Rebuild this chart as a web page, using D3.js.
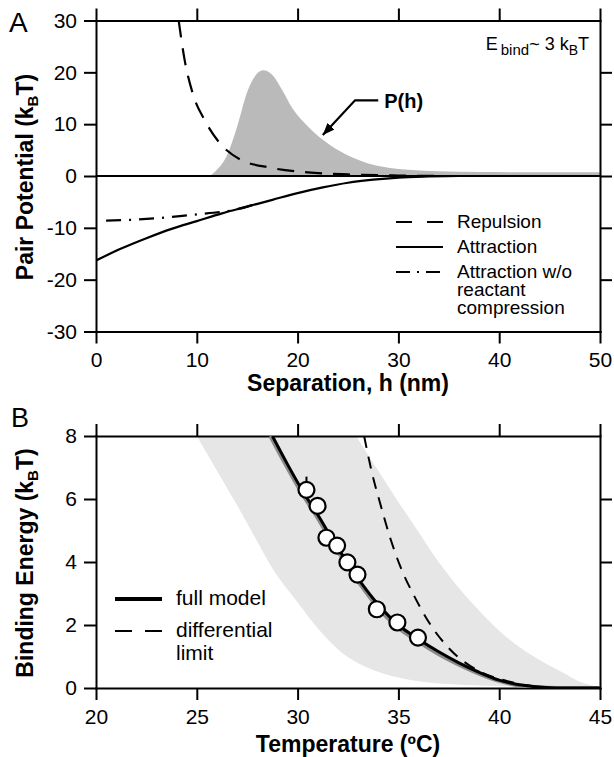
<!DOCTYPE html>
<html>
<head>
<meta charset="utf-8">
<script src="https://cdn.jsdelivr.net/npm/d3@7"></script>
<style>
  body { margin: 0; background: #fff; }
  svg { display: block; font-family: "Liberation Sans", Arial, sans-serif; }
</style>
</head>
<body>
<svg id="chart" width="614" height="757"></svg>
<script>
(function(){
  "use strict";

  // ---- panel A: pair potential vs separation ----
  const pH   = [11.3, 12, 13, 14, 15, 16, 16.6, 17.5, 18.5, 19.5, 21, 22.5, 24, 25.5, 27, 29, 31, 34, 38, 44, 50];
  const pVal = [0, 1.2, 4, 9.5, 16.2, 19.8, 20.4, 19.5, 16.5, 13, 9.6, 7, 5, 3.5, 2.4, 1.6, 1.2, 0.9, 0.75, 0.7, 0.7];

  const repH = [8.2, 8.8, 9.6, 10.8, 12.3, 14.3, 17.3, 21, 25, 30, 35, 50];
  const repV = [30, 22.3, 15.9, 10.7, 6.3, 3.2, 1.6, 0.7, 0.3, 0.1, 0, 0];

  const attH = [0, 2.5, 5, 7.5, 10, 12.5, 15, 17.5, 20, 22.5, 25, 27.5, 30, 33, 36, 50];
  const attV = [-16.3, -14, -12, -10.2, -8.7, -7.2, -5.9, -4.6, -3.3, -2.2, -1.3, -0.7, -0.3, -0.1, 0, 0];

  const noCompH = [1, 4, 7, 9, 11, 13, 15, 16];
  const noCompV = [-8.6, -8.4, -8.0, -7.6, -7.2, -6.8, -5.9, -5.3];

  const xTicksA = [0, 10, 20, 30, 40, 50];
  const yTicksA = [-30, -20, -10, 0, 10, 20, 30];
  const legendA = ["Repulsion", "Attraction", "Attraction w/o|reactant|compression"];

  // arrow pointing at P(h): [h, value]
  const arrowA = [[28, 14.6], [25.7, 14.6], [22.5, 7.9]];

  // ---- panel B: binding energy vs temperature ----
  const bandLowT = [25, 26, 27, 28, 28.8, 29.9, 31.2, 32.5, 34.2, 36.4, 39, 42, 45];
  const bandLowE = [8, 6.9, 5.8, 4.65, 3.75, 2.8, 1.75, 0.98, 0.47, 0.18, 0.08, 0.03, 0];
  const bandHighT = [32.9, 33.9, 34.9, 35.95, 37, 38.3, 39.8, 41, 42.2, 43.2, 44, 45];
  const bandHighE = [8, 7, 6, 5, 4, 2.95, 1.94, 1.3, 0.82, 0.48, 0.2, 0];

  const fullT = [28.75, 29.5, 30.3, 31, 31.7, 32.5, 33.2, 34, 35, 36, 37, 38, 39, 40, 41, 42, 43, 45];
  const fullE = [8, 7.1, 6.2, 5.5, 4.75, 3.95, 3.3, 2.65, 2.0, 1.55, 1.15, 0.8, 0.5, 0.25, 0.1, 0.03, 0, 0];
  const fullGrayT = [28.65, 29.4, 30.2, 30.9, 31.6, 32.4, 33.1, 33.9, 34.9, 35.9, 36.9, 37.9, 38.9, 39.9, 40.9, 41.9, 42.9, 45];
  const fullGrayE = [8, 7.1, 6.2, 5.5, 4.75, 3.95, 3.3, 2.62, 1.96, 1.51, 1.11, 0.77, 0.48, 0.24, 0.09, 0.02, 0, 0];

  const diffT = [33.3, 33.7, 34.1, 34.55, 35.1, 35.8, 36.6, 37.6, 38.9, 40.3, 41.5, 42.5];
  const diffE = [8, 6.8, 5.85, 4.85, 3.85, 2.9, 2.0, 1.2, 0.57, 0.24, 0.07, 0];

  const expT = [30.44, 30.99, 31.43, 31.96, 32.47, 32.97, 33.93, 34.95, 35.97];
  const expE = [6.29, 5.78, 4.77, 4.52, 3.99, 3.6, 2.5, 2.08, 1.6];
  const expErr = [0.42, 0, 0, 0, 0, 0, 0, 0, 0];

  const xTicksB = [20, 25, 30, 35, 40, 45];
  const yTicksB = [0, 2, 4, 6, 8];
  const legendB = ["full model", "differential|limit"];

  const svg = d3.select("#chart");
  const defs = svg.append("defs");

  const zip = (a, b) => a.map((v, i) => [v, b[i]]);

  // scales
  const xA = d3.scaleLinear().domain([0, 50]).range([96, 600]);
  const yA = d3.scaleLinear().domain([-30, 30]).range([331.5, 20.5]);
  const xB = d3.scaleLinear().domain([20, 45]).range([96, 600]);
  const yB = d3.scaleLinear().domain([0, 8]).range([688, 436]);

  // clip rect for a panel
  function addClip(id, x, y){
    const [x0, x1] = x.range();
    const [y0, y1] = y.range();
    defs.append("clipPath").attr("id", id)
      .append("rect").attr("x", x0).attr("y", y1).attr("width", x1 - x0).attr("height", y0 - y1);
    return `url(#${id})`;
  }

  // box with ticks on all four sides, labels only bottom and left
  function drawFrame(x, y, xt, yt){
    const [x0, x1] = x.range();
    const [y0, y1] = y.range();
    const inner = yt.slice(1, -1);
    const g = svg.append("g");
    g.append("g").attr("transform", `translate(0,${y0})`)
      .call(d3.axisBottom(x).tickValues(xt).tickSize(12).tickSizeOuter(0).tickPadding(9).tickFormat(d => String(d)));
    g.append("g").attr("transform", `translate(0,${y1})`)
      .call(d3.axisTop(x).tickValues(xt).tickSize(12).tickSizeOuter(0).tickFormat(""));
    g.append("g").attr("transform", `translate(${x0},0)`)
      .call(d3.axisLeft(y).tickValues(yt).tickSize(12).tickSizeOuter(0).tickPadding(7).tickFormat(d => String(d)));
    g.append("g").attr("transform", `translate(${x1},0)`)
      .call(d3.axisRight(y).tickValues(inner).tickSize(12).tickSizeOuter(0).tickFormat(""));
    g.selectAll("g").attr("font-family", null).attr("font-size", null);
    g.selectAll(".domain").attr("stroke", "#000").attr("stroke-width", 2).attr("stroke-linecap", "square");
    g.selectAll(".tick line").attr("stroke", "#000").attr("stroke-width", 2);
    g.selectAll(".tick text").attr("font-size", 21).attr("fill", "#000");
    return g;
  }

  // subscripted label helper, e.g. "(k" + B + "T)"
  function kbt(text, pre){
    text.append("tspan").text(pre + "(k");
    text.append("tspan").attr("font-size", 15).attr("dy", 5).text("B");
    text.append("tspan").attr("dy", -5).text("T)");
  }

  // ================= panel A =================
  const clipA = addClip("clipA", xA, yA);
  const lineA = d3.line().x(d => xA(d[0])).y(d => yA(d[1])).curve(d3.curveMonotoneX);

  svg.append("path")
    .datum(zip(pH, pVal))
    .attr("d", d3.area().x(d => xA(d[0])).y0(yA(0)).y1(d => yA(d[1])).curve(d3.curveMonotoneX))
    .attr("fill", "#bababa");

  svg.append("line")
    .attr("x1", xA(0)).attr("x2", xA(50))
    .attr("y1", yA(0)).attr("y2", yA(0))
    .attr("stroke", "#000").attr("stroke-width", 2);

  drawFrame(xA, yA, xTicksA, yTicksA);

  const curvesA = svg.append("g").attr("clip-path", clipA);
  curvesA.append("path").datum(zip(repH, repV))
    .attr("d", lineA)
    .attr("fill", "none").attr("stroke", "#000").attr("stroke-width", 2.2)
    .attr("stroke-dasharray", "17,11");

  curvesA.append("path").datum(zip(attH, attV))
    .attr("d", lineA)
    .attr("fill", "none").attr("stroke", "#000").attr("stroke-width", 2.2);

  curvesA.append("path").datum(zip(noCompH, noCompV))
    .attr("d", lineA)
    .attr("fill", "none").attr("stroke", "#000").attr("stroke-width", 2.2)
    .attr("stroke-dasharray", "15,8,2,8");

  // legend A
  const legA = svg.append("g");
  const dashA = ["16,15", null, "14,7,2,7"];
  legendA.forEach((lab, i) => {
    const yy = 228 + i * 25;
    legA.append("line").attr("x1", 396).attr("x2", 443).attr("y1", yy - 6).attr("y2", yy - 6)
      .attr("stroke", "#000").attr("stroke-width", 2.2).attr("stroke-dasharray", dashA[i]);
    const t = legA.append("text").attr("x", 457).attr("y", yy).attr("font-size", 19);
    lab.split("|").forEach((s, j) => {
      t.append("tspan").attr("x", 457).attr("dy", j ? 18 : 0).text(s);
    });
  });

  // P(h) annotation
  defs.append("marker")
    .attr("id", "arrowHead").attr("viewBox", "0 0 10 8")
    .attr("refX", 10).attr("refY", 4)
    .attr("markerWidth", 12).attr("markerHeight", 10)
    .attr("markerUnits", "userSpaceOnUse").attr("orient", "auto")
    .append("path").attr("d", "M0,0L10,4L0,8z").attr("fill", "#000");

  svg.append("path").datum(arrowA)
    .attr("d", d3.line().x(d => xA(d[0])).y(d => yA(d[1])))
    .attr("fill", "none").attr("stroke", "#000").attr("stroke-width", 2.2)
    .attr("marker-end", "url(#arrowHead)");

  svg.append("text").attr("x", xA(28.6)).attr("y", 108)
    .attr("font-size", 20).attr("font-weight", "bold").text("P(h)");

  const eb = svg.append("text").attr("x", 589).attr("y", 50)
    .attr("text-anchor", "end").attr("font-size", 18);
  eb.append("tspan").text("E");
  eb.append("tspan").attr("dx", 3).attr("dy", 5).attr("font-size", 15).text("bind");
  eb.append("tspan").attr("dy", -5).text("~ 3 k");
  eb.append("tspan").attr("dy", 5).attr("font-size", 14).text("B");
  eb.append("tspan").attr("dy", -5).text("T");

  // titles A
  svg.append("text").attr("x", 9).attr("y", 32).attr("font-size", 28).text("A");
  svg.append("text").attr("x", 348).attr("y", 391)
    .attr("text-anchor", "middle").attr("font-size", 23).attr("font-weight", "bold")
    .text("Separation, h (nm)");
  const ytA = svg.append("text")
    .attr("transform", "translate(33,177) rotate(-90)")
    .attr("text-anchor", "middle").attr("font-size", 23).attr("font-weight", "bold");
  kbt(ytA, "Pair Potential ");

  // ================= panel B =================
  const clipB = addClip("clipB", xB, yB);
  const lineB = d3.line().x(d => xB(d[0])).y(d => yB(d[1])).curve(d3.curveMonotoneX);

  // shaded band: lower edge forward, upper edge back, straight closing segment along the top
  const bandPts = zip(bandLowT, bandLowE).concat(zip(bandHighT, bandHighE).reverse().slice(1));
  const bandLine = d3.line().x(d => xB(d[0])).y(d => yB(d[1])).curve(d3.curveCatmullRom.alpha(0.5));
  svg.append("path")
    .attr("clip-path", clipB)
    .attr("d", bandLine(bandPts) + "Z")
    .attr("fill", "#e6e6e6");

  drawFrame(xB, yB, xTicksB, yTicksB);

  const curvesB = svg.append("g").attr("clip-path", clipB);
  curvesB.append("path").datum(zip(fullGrayT, fullGrayE))
    .attr("d", lineB)
    .attr("fill", "none").attr("stroke", "#8a8a8a").attr("stroke-width", 4);

  curvesB.append("path").datum(zip(fullT, fullE))
    .attr("d", lineB)
    .attr("fill", "none").attr("stroke", "#000").attr("stroke-width", 3);

  curvesB.append("path").datum(zip(diffT, diffE))
    .attr("d", lineB)
    .attr("fill", "none").attr("stroke", "#000").attr("stroke-width", 2)
    .attr("stroke-dasharray", "12,9");

  const pts = expT.map((t, i) => ({ t, e: expE[i], err: expErr[i] }));
  svg.append("g").selectAll("line")
    .data(pts.filter(d => d.err > 0))
    .join("line")
    .attr("x1", d => xB(d.t)).attr("x2", d => xB(d.t))
    .attr("y1", d => yB(d.e + d.err)).attr("y2", d => yB(d.e))
    .attr("stroke", "#000").attr("stroke-width", 2);
  svg.append("g").selectAll("circle")
    .data(pts)
    .join("circle")
    .attr("cx", d => xB(d.t)).attr("cy", d => yB(d.e)).attr("r", 8)
    .attr("fill", "#fff").attr("stroke", "#000").attr("stroke-width", 2.2);

  // legend B
  const legB = svg.append("g");
  legB.append("line").attr("x1", 115).attr("x2", 162).attr("y1", 599).attr("y2", 599)
    .attr("stroke", "#000").attr("stroke-width", 4);
  legB.append("line").attr("x1", 115).attr("x2", 162).attr("y1", 631).attr("y2", 631)
    .attr("stroke", "#000").attr("stroke-width", 2).attr("stroke-dasharray", "17,13");
  legendB.forEach((lab, i) => {
    const t = legB.append("text").attr("x", 176).attr("y", 605 + i * 32).attr("font-size", 21);
    lab.split("|").forEach((s, j) => {
      t.append("tspan").attr("x", 176).attr("dy", j ? 23 : 0).text(s);
    });
  });

  // titles B
  svg.append("text").attr("x", 11).attr("y", 427).attr("font-size", 27).text("B");
  svg.append("text").attr("x", 348).attr("y", 752)
    .attr("text-anchor", "middle").attr("font-size", 23).attr("font-weight", "bold")
    .text("Temperature (ºC)");
  const ytB = svg.append("text")
    .attr("transform", "translate(33,563) rotate(-90)")
    .attr("text-anchor", "middle").attr("font-size", 23).attr("font-weight", "bold");
  kbt(ytB, "Binding Energy ");
})();
</script>
</body>
</html>
